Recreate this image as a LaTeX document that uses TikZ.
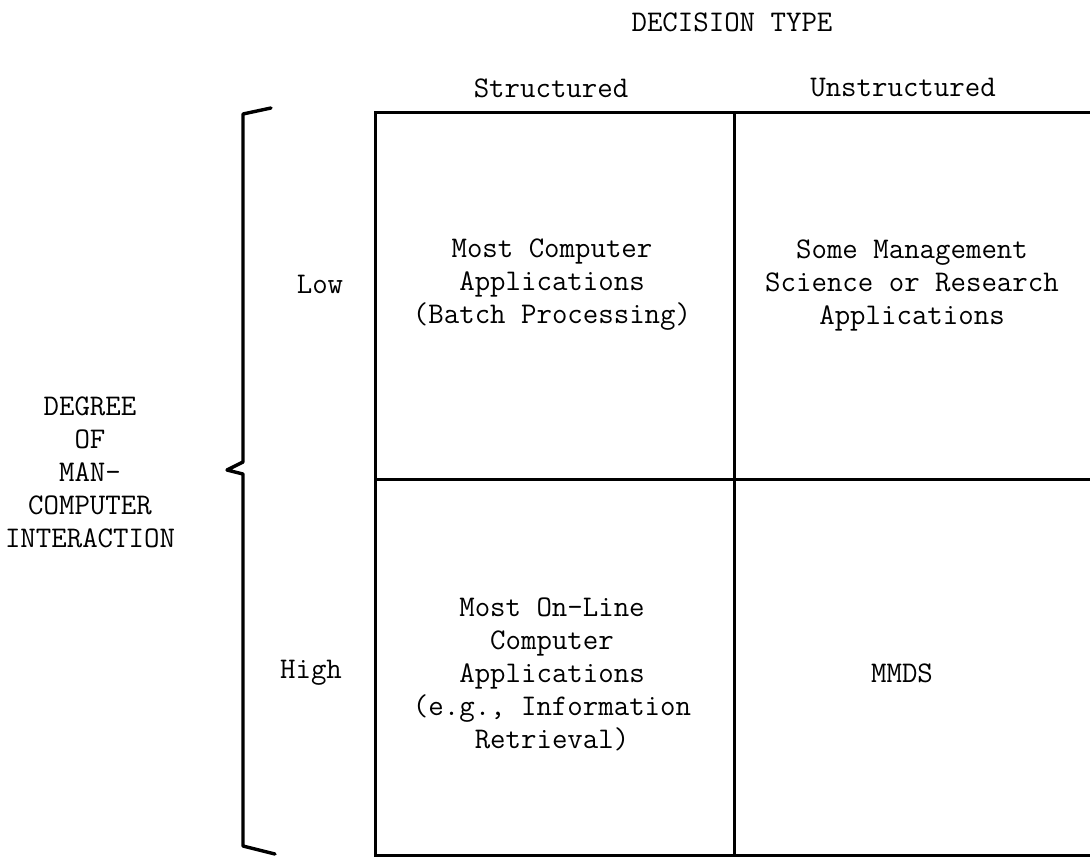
\documentclass[tikz,border=0pt]{standalone}
\usepackage{fontspec}
\begin{document}
\begin{tikzpicture}[x=1pt,y=-1pt,
  txt/.style={font=\ttfamily\fontsize{30}{33}\selectfont, align=center, inner sep=0pt},
  rule/.style={line width=3pt, line cap=rect},
  bracket/.style={line width=3.4pt, line join=round, line cap=round}]
  \useasboundingbox (0,0) rectangle (1090,857);
  % grid corners
  \coordinate (tl) at (375,112);
  \coordinate (tm) at (734,112);
  \coordinate (tr) at (1090,112);
  \coordinate (ml) at (375,479);
  \coordinate (mr) at (1090,479);
  \coordinate (bl) at (375,855);
  \coordinate (bm) at (734,855);
  \coordinate (br) at (1090,855);
  % the two-by-two table
  \draw[rule] (tl) -- (tr);
  \draw[rule] (ml) -- (mr);
  \draw[rule] (bl) -- (br);
  \draw[rule] (tl) -- (bl);
  \draw[rule] (tm) -- (bm);
  % left brace
  \draw[bracket] (271,108) -- (243,114) -- (243,462) -- (227,470) -- (243,474) -- (243,846) -- (275,854);
  % headings
  \node[txt] (dtype) at (732,22) {DECISION TYPE};
  \node[txt] (struct) at (551,88) {Structured};
  \node[txt] (unstruct) at (903,88) {Unstructured};
  \node[txt] (low) at (320,284) {Low};
  \node[txt] (high) at (311,673) {High};
  \node[txt] (degree) at (90,472) {DEGREE\\OF\\MAN-\\COMPUTER\\INTERACTION};
  % cell contents
  \node[txt] (c11) at (552,285) {Most Computer\\Applications\\(Batch Processing)};
  \node[txt] (c12) at (912,285) {Some Management\\Science or Research\\Applications};
  \node[txt] (c21) at (552,674) {Most On-Line\\Computer\\Applications\\(e.g., Information\\Retrieval)};
  \node[txt] (c22) at (902,673) {MMDS};
\end{tikzpicture}
\end{document}
